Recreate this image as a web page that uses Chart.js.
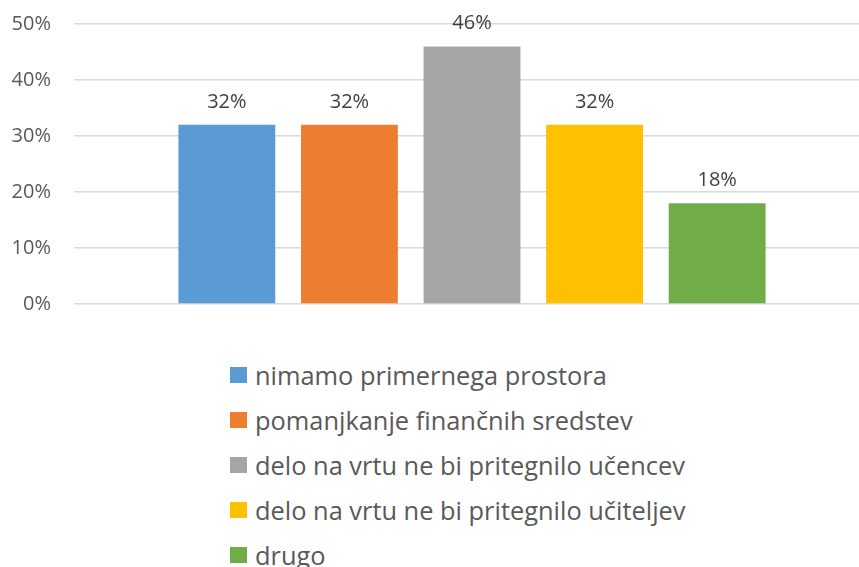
<!DOCTYPE html>
<html>
<head>
<meta charset="utf-8">
<script src="https://cdn.jsdelivr.net/npm/chart.js@4"></script>
<style>
  html, body { margin:0; padding:0; background:#fff; width:859px; height:567px; overflow:hidden; }
  #wrap { position:absolute; left:0; top:0; width:872px; height:339px; }
  #legend { position:absolute; left:230px; top:352px; font-family:"Open Sans", sans-serif; font-size:25.4px; color:#595959; }
  .item { height:45px; display:flex; align-items:center; white-space:nowrap; }
  .sw { width:17px; height:16px; margin-right:8px; flex:none; }
</style>
</head>
<body>
<div id="wrap"><canvas id="c" width="872" height="339"></canvas></div>
<div id="legend"></div>
<script>
const seriesNames = [
  "nimamo primernega prostora",
  "pomanjkanje finančnih sredstev",
  "delo na vrtu ne bi pritegnilo učencev",
  "delo na vrtu ne bi pritegnilo učiteljev",
  "drugo"
];
const seriesValues = [32, 32, 46, 32, 18];
const seriesColors = ["#5b9bd5", "#ed7d31", "#a5a5a5", "#ffc000", "#70ad47"];
const yTicks = [0, 10, 20, 30, 40, 50];

const datasets = seriesNames.map((n, i) => ({
  label: n,
  data: [seriesValues[i]],
  backgroundColor: seriesColors[i],
  borderWidth: 0,
  barPercentage: 0.79,
  categoryPercentage: 0.77
}));

const labelPlugin = {
  id: 'vals',
  afterDatasetsDraw(chart) {
    const ctx = chart.ctx;
    ctx.save();
    ctx.font = '20px "Open Sans", sans-serif';
    ctx.fillStyle = '#404040';
    ctx.textAlign = 'center';
    ctx.textBaseline = 'middle';
    chart.data.datasets.forEach((ds, i) => {
      const meta = chart.getDatasetMeta(i);
      meta.data.forEach((el, j) => {
        ctx.fillText(ds.data[j] + '%', el.x, el.y - 23);
      });
    });
    ctx.restore();
  }
};

new Chart(document.getElementById('c'), {
  type: 'bar',
  data: { labels: [''], datasets },
  options: {
    responsive: false,
    animation: false,
    layout: { padding: { top: 24, right: 2, bottom: 35, left: 0 } },
    plugins: { legend: { display: false }, tooltip: { enabled: false } },
    scales: {
      x: { display: false },
      y: {
        min: 0, max: 50,
        afterBuildTicks(s) { s.ticks = yTicks.map(v => ({ value: v })); },
        afterFit(s) { s.width = 74; s.paddingTop = 0; s.paddingBottom = 0; },
        ticks: {
          padding: 23,
          color: '#595959',
          font: { family: '"Open Sans", sans-serif', size: 20 },
          callback: v => v + '%'
        },
        grid: { color: '#d9d9d9', lineWidth: 1.5, drawTicks: false },
        border: { display: false }
      }
    }
  },
  plugins: [labelPlugin]
});

const lg = document.getElementById('legend');
seriesNames.forEach((n, i) => {
  const d = document.createElement('div');
  d.className = 'item';
  const s = document.createElement('span');
  s.className = 'sw';
  s.style.background = seriesColors[i];
  const t = document.createElement('span');
  t.textContent = n;
  d.appendChild(s); d.appendChild(t);
  lg.appendChild(d);
});
</script>
</body>
</html>
